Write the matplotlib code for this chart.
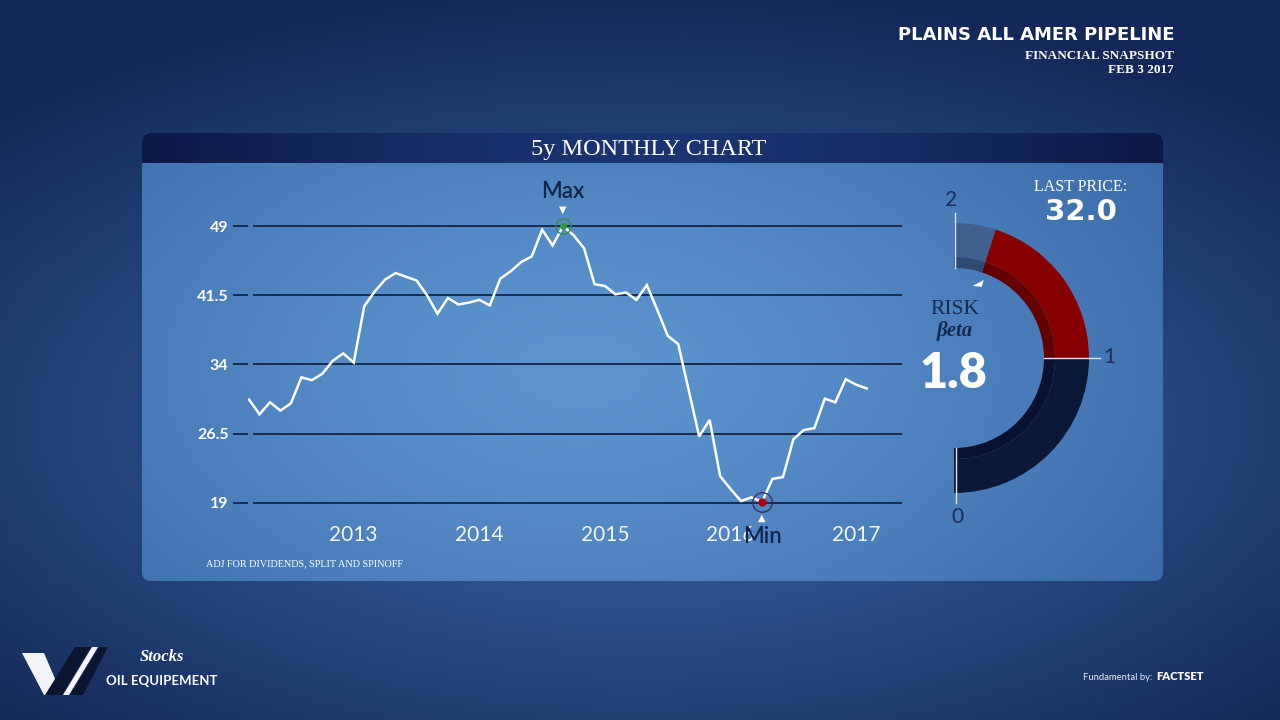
import numpy as np
import matplotlib
matplotlib.use("Agg")
import matplotlib.pyplot as plt
from matplotlib.patches import FancyBboxPatch, Wedge, Polygon
from matplotlib.colors import to_rgb

# ---------------- data ----------------
prices = [30.2, 28.6, 29.9, 29.0, 29.8, 32.6, 32.3, 33.0, 34.4, 35.2,
          34.2, 40.3, 41.9, 43.2, 43.9, 43.5, 43.1, 41.5, 39.5, 41.2,
          40.5, 40.7, 41.0, 40.4, 43.3, 44.1, 45.1, 45.7, 48.6, 46.9,
          49.0, 48.0, 46.6, 42.7, 42.5, 41.6, 41.8, 41.0, 42.6, 39.9,
          37.1, 36.2, 31.2, 26.2, 28.0, 21.9, 20.5, 19.2, 19.6, 19.1,
          21.6, 21.8, 25.9, 26.9, 27.1, 30.3, 29.9, 32.4, 31.8, 31.4]
year_labels = ["2013", "2014", "2015", "2016", "2017"]
year_month_index = [10, 22, 34, 46, 58]   # January of each year (first point = Mar 2012)
y_ticks = [19, 26.5, 34, 41.5, 49]
y_tick_labels = ["19", "26.5", "34", "41.5", "49"]
beta = 1.8
beta_scale = [0, 1, 2]
last_price = 32.0
company = "PLAINS ALL AMER PIPELINE"
snapshot_date = "FEB 3 2017"

W, H = 1280, 720
fig = plt.figure(figsize=(12.8, 7.2), dpi=100)

def Y(y):
    return H - y

# ---------------- background ----------------
bg = fig.add_axes([0, 0, 1, 1])
bg.set_xlim(0, W)
bg.set_ylim(0, H)
bg.axis("off")

xx, yy = np.meshgrid(np.arange(W), np.arange(H))
d = np.sqrt(((xx - 640) / 900.0) ** 2 + ((yy - 420) / 430.0) ** 2)
d = np.clip(d, 0, 1) ** 1.2
light = np.array(to_rgb("#3a66a3"))
dark = np.array(to_rgb("#132858"))
img = light[None, None, :] * (1 - d[..., None]) + dark[None, None, :] * d[..., None]
bg.imshow(img, extent=(0, W, 0, H), origin="upper", zorder=0, aspect="auto")

# ---------------- panel ----------------
px0, px1, py0, py1 = 142, 1163, 133, 581
panel = FancyBboxPatch((px0, Y(py1)), px1 - px0, py1 - py0,
                       boxstyle="round,pad=0,rounding_size=9",
                       facecolor="none", edgecolor="none", zorder=1)
bg.add_patch(panel)
d2 = np.sqrt(((xx - 580) / 720.0) ** 2 + ((yy - 370) / 420.0) ** 2)
d2 = np.clip(d2, 0, 1) ** 1.3
pl = np.array(to_rgb("#5d95cf"))
pd_ = np.array(to_rgb("#3867a6"))
pimg = pl[None, None, :] * (1 - d2[..., None]) + pd_[None, None, :] * d2[..., None]
im2 = bg.imshow(pimg, extent=(0, W, 0, H), origin="upper", zorder=1, aspect="auto")
im2.set_clip_path(panel)

# header bar (rounded top via panel clip, square bottom)
hx = np.linspace(-1, 1, 400)
t = np.clip(np.abs(hx), 0, 1) ** 1.5
hc = np.array(to_rgb("#1b3572"))
he = np.array(to_rgb("#0a1847"))
hrow = hc[None, :] * (1 - t[:, None]) + he[None, :] * t[:, None]
himg = np.repeat(hrow[None, :, :], 10, axis=0)
im3 = bg.imshow(himg, extent=(px0, px1, Y(163), Y(py0)), origin="upper", zorder=2,
                aspect="auto")
im3.set_clip_path(panel)

bg.text(649, Y(149), "5y MONTHLY CHART", ha="center", va="center", color="white",
        fontsize=17.5, family="Liberation Serif", zorder=5)

# ---------------- header text ----------------
bg.text(1174, Y(35), company, ha="right", va="center", color="white",
        fontsize=13, family="DejaVu Sans", fontweight="bold", zorder=5)
bg.text(1174, Y(56), "FINANCIAL SNAPSHOT", ha="right", va="center", color="white",
        fontsize=9.5, family="Liberation Serif", fontweight="bold", zorder=5)
bg.text(1174, Y(70), snapshot_date, ha="right", va="center", color="white",
        fontsize=9.5, family="Liberation Serif", fontweight="bold", zorder=5)

bg.text(206, Y(564), "ADJ FOR DIVIDENDS, SPLIT AND SPINOFF", ha="left", va="center",
        color="white", fontsize=7.3, family="Liberation Serif", zorder=5)

# ---------------- line chart ----------------
ax_l, ax_r, ax_t, ax_b = 248, 905, 200, 515
ax = fig.add_axes([ax_l / W, 1 - ax_b / H, (ax_r - ax_l) / W, (ax_b - ax_t) / H])
ax.set_facecolor("none")
ax.patch.set_alpha(0)
for s in ax.spines.values():
    s.set_visible(False)
x = np.arange(len(prices))
ax.set_xlim(-0.1, 62.66)
ax.set_ylim(17.69, 51.82)

ax.hlines(y_ticks, 0.38, 62.4, color="#142446", lw=1.3, zorder=1)
ax.plot(x, prices, color="white", lw=1.8, zorder=3, solid_joinstyle="miter")

ax.set_yticks(y_ticks)
ax.set_yticklabels(y_tick_labels)
ax.tick_params(axis="y", length=11, width=1.3, color="#142446", pad=3,
               labelcolor="white", labelsize=11.5, direction="out")
for lab in ax.get_yticklabels():
    lab.set_family("Lato")
    lab.set_fontweight("bold")

ax.set_xticks(year_month_index)
ax.set_xticklabels(year_labels)
ax.tick_params(axis="x", length=0, pad=7, labelcolor="#f4f7fb", labelsize=15)
for lab in ax.get_xticklabels():
    lab.set_family("Lato")
    lab.set_fontweight("normal")

imax = int(np.argmax(prices))
imin = int(np.argmin(prices))
ax.plot(imax, prices[imax], "o", ms=11, mfc="none", mec="#3d8a45", mew=1.0, zorder=4)
ax.plot(imax, prices[imax], "o", ms=4, color="#2f9a3a", zorder=5)
ax.plot(imin, prices[imin], "o", ms=14, mfc="none", mec="#3a2f66", mew=1.0, zorder=4)
ax.plot(imin, prices[imin], "o", ms=5, color="#b0001a", zorder=5)

ax.annotate("\u25BC", xy=(imax, prices[imax]), xytext=(0, 12), textcoords="offset points",
            ha="center", va="center", color="white", fontsize=7, family="DejaVu Sans",
            annotation_clip=False)
ax.annotate("Max", xy=(imax, prices[imax]), xytext=(0, 24.5), textcoords="offset points",
            ha="center", va="center", color="#13244a", fontsize=16, family="Lato",
            fontweight="semibold", annotation_clip=False)
ax.annotate("\u25B2", xy=(imin, prices[imin]), xytext=(0, -11.5), textcoords="offset points",
            ha="center", va="center", color="white", fontsize=7, family="DejaVu Sans",
            annotation_clip=False)
ax.annotate("Min", xy=(imin, prices[imin]), xytext=(0, -25), textcoords="offset points",
            ha="center", va="center", color="#13244a", fontsize=16, family="Lato",
            fontweight="semibold", annotation_clip=False, zorder=10)

# ---------------- beta gauge ----------------
cx, cy = 954, 358
r_out, r_in = 135, 90
band = 11

def ang(v):
    return -90 + 180 * v / beta_scale[-1]

segments = [
    (beta_scale[0], beta_scale[1], "#0c1838", "#081230"),
    (beta_scale[1], beta, "#860000", "#650000"),
    (beta, beta_scale[-1], "#41608d", "#2e4a73"),
]
for v0, v1, col, colin in segments:
    bg.add_patch(Wedge((cx, Y(cy)), r_out, ang(v0), ang(v1), width=r_out - r_in - band,
                       facecolor=col, edgecolor="none", zorder=4))
    bg.add_patch(Wedge((cx, Y(cy)), r_in + band, ang(v0), ang(v1), width=band,
                       facecolor=colin, edgecolor="none", zorder=4))

line_col = "#dfe6f0"
bg.plot([955, 955], [Y(213), Y(268)], color=line_col, lw=1.0, zorder=5)
bg.plot([956, 956], [Y(448), Y(503)], color=line_col, lw=1.0, zorder=5)
bg.plot([1044, 1100], [Y(358), Y(358)], color=line_col, lw=1.0, zorder=5)

num_col = "#1a2d5a"
bg.text(951, Y(200), str(beta_scale[2]), ha="center", va="center", color=num_col,
        fontsize=15, family="Lato", fontweight="normal", zorder=5)
bg.text(1109, Y(357), str(beta_scale[1]), ha="center", va="center", color=num_col,
        fontsize=15, family="Lato", fontweight="normal", zorder=5)
bg.text(957, Y(517), str(beta_scale[0]), ha="center", va="center", color=num_col,
        fontsize=15, family="Lato", fontweight="normal", zorder=5)

# pointer triangle
a = np.deg2rad(ang(beta))
pr = 80
tx, ty = cx + pr * np.cos(a), cy - pr * np.sin(a)
tri = Polygon([(tx - 6, Y(ty + 4)), (tx + 5, Y(ty - 2)), (tx + 3, Y(ty + 5))],
              closed=True, facecolor="white", edgecolor="none", zorder=5)
bg.add_patch(tri)

bg.text(955, Y(310), "RISK", ha="center", va="center", color="#15294f",
        fontsize=15.5, family="Liberation Serif", zorder=5)
bg.text(955, Y(331), "\u03b2eta", ha="center", va="center", color="#15294f",
        fontsize=15, family="Liberation Serif", fontweight="bold", style="italic", zorder=5)
bg.text(953, Y(373), f"{beta:.1f}", ha="center", va="center", color="white",
        fontsize=35, family="Lato", fontweight="heavy", zorder=5)

bg.text(1081, Y(187), "LAST PRICE:", ha="center", va="center", color="white",
        fontsize=11.5, family="Liberation Serif", zorder=5)
bg.text(1081, Y(212), f"{last_price:.1f}", ha="center", va="center", color="white",
        fontsize=21, family="DejaVu Sans", fontweight="bold", zorder=5)

# ---------------- footer ----------------
logo_white = "#f2f4f8"
logo_dark = "#0b1530"
shapes = [
    ([(22, 653), (44, 653), (62, 695), (44, 695)], logo_white),
    ([(45, 695), (62, 695), (91, 647), (75, 647)], logo_dark),
    ([(63, 695), (69, 695), (98, 647), (92, 647)], logo_white),
    ([(70, 695), (83, 695), (108, 647), (99, 647)], logo_dark),
]
for pts, col in shapes:
    bg.add_patch(Polygon([(px, Y(py)) for px, py in pts], closed=True,
                         facecolor=col, edgecolor="none", zorder=5))

bg.text(162, Y(657), "Stocks", ha="center", va="center", color="white",
        fontsize=12, family="Liberation Serif", fontweight="bold", style="italic", zorder=5)
bg.text(106, Y(681), "OIL EQUIPEMENT", ha="left", va="center", color="white",
        fontsize=9.5, family="Lato", fontweight="bold", zorder=5)

bg.text(1155, Y(677), "Fundamental by: ", ha="right", va="center", color="#e6ebf3",
        fontsize=6.8, family="Lato", zorder=5)
bg.text(1156, Y(677), "FACTSET", ha="left", va="center", color="white",
        fontsize=8, family="Lato", fontweight="heavy", zorder=5)

fig.savefig("out.png", dpi=100)
